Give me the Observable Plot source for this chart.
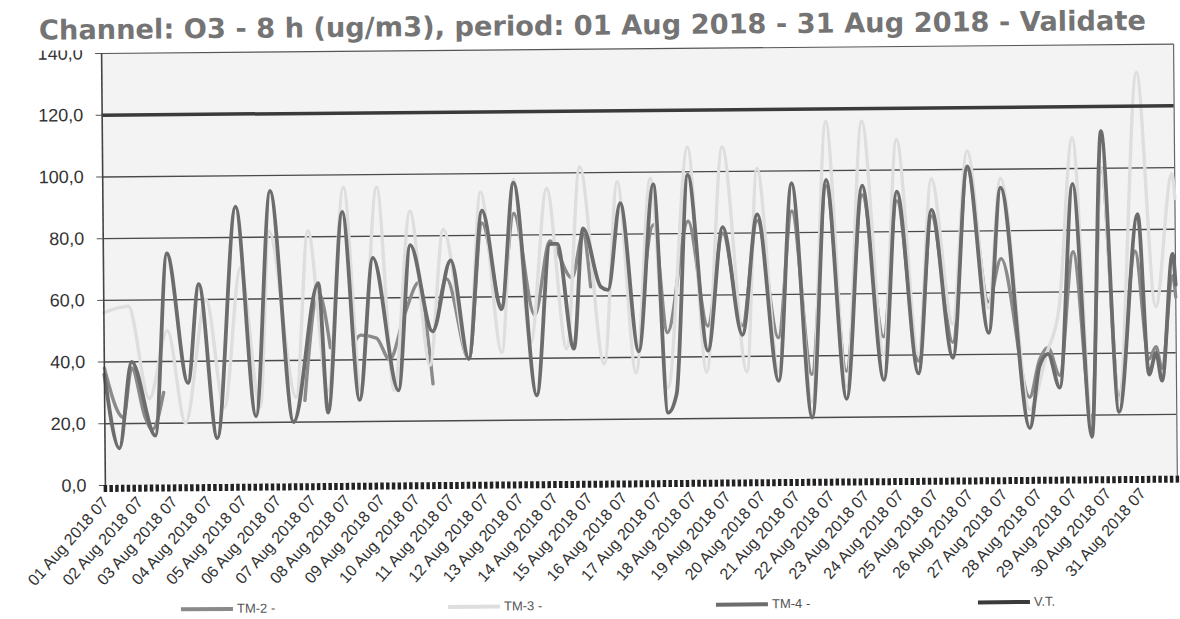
<!DOCTYPE html>
<html><head><meta charset="utf-8">
<script src="https://cdn.jsdelivr.net/npm/d3@7"></script>
<script src="https://cdn.jsdelivr.net/npm/@observablehq/plot@0.6"></script>
<style>
html,body{margin:0;padding:0;background:#fff;overflow:hidden}
#wrap{width:1180px;height:619px;transform:rotate(-0.5deg);transform-origin:103px 270px;}
#title{position:relative;height:50px;}
#tt{position:absolute;left:41px;top:16px;font-family:"DejaVu Sans",sans-serif;font-weight:bold;font-size:25px;color:#747474;white-space:nowrap;line-height:1}
#chart svg{display:block;overflow:hidden}
#legend{position:relative;height:23px;font-family:"Liberation Sans",Arial,sans-serif;font-size:13px;color:#555}
.ln{position:absolute;height:0}
.lt{position:absolute;line-height:1;white-space:nowrap}
</style></head>
<body><div id="wrap"><div id="title"><span id="tt"></span></div><div id="chart"></div><div id="legend"></div></div>
<script>
const titleText = "Channel: O3 - 8 h (ug/m3), period: 01 Aug 2018 - 31 Aug 2018 - Validate";

// hour offsets from 01 Aug 2018 00:00 and values
const tm4Hours = [0,10,19,35,44,58,66,78,92,105,116,131,149,155,166,177,187,204,213,228,241,253,263,276,285,300,310,315,326,333,345,350,359,371,382,391,397,406,419,430,443,454,468,478,491,502,515,527,541,551,565,575,589,600,614,623,642,649,655,663,673,685,693,704,718,725,730,734,742,744];
const tm4Values = [36,12,40,16,75,33,65,15,90,22,95,20,65,23,88,27,73,30,77,49,72,40,88,56,97,28,77,77,43,82,63,62,90,42,96,22,28,99,42,82,47,86,32,96,20,97,26,95,32,93,34,87,39,101,47,94,16,36,40,29,95,13,112,21,85,33,40,31,72,62];

const tm2Hours = [0,13,19,28,33,41,42,139,149,157,158,173,178,189,198,209,219,224,228,229,233,238,253,263,276,285,299,310,325,333,338,339,374,382,391,406,419,430,443,454,468,478,491,502,515,527,541,551,565,575,589,600,614,623,642,649,655,663,673,685,693,704,716,725,730,734,742,744];
const tm2Values = [38,22,38,22,18,30,NaN,27,62,44,NaN,45,48,47,40,55,65,50,32,NaN,58,66,40,84,57,87,54,78,66,80,63,NaN,60,83,48,84,50,80,50,84,46,87,34,95,35,92,46,90,38,85,44,100,57,71,26,38,42,33,73,19,100,26,73,38,42,35,65,58];

const tm3Hours = [0,17,31,44,56,71,83,95,108,115,133,142,155,167,178,190,201,213,226,236,253,262,276,285,296,308,321,331,347,357,369,380,391,406,418,430,446,454,468,478,491,502,515,527,541,551,565,575,589,600,614,623,642,654,663,673,685,693,704,718,730,742,744];
const tm3Values = [56,58,28,50,20,60,25,70,25,82,28,82,30,96,30,96,30,88,38,82,40,94,42,98,45,95,43,102,38,97,35,98,30,108,35,108,35,101,35,96,25,116,30,116,40,110,40,97,50,106,55,97,22,40,55,110,18,100,25,131,55,98,90];

const vtValue = 120;
const yTicks = [0,20,40,60,80,100,120,140];
const gridValues = [20,40,60,80,100];
const days = d3.range(1, 32);
const xTickHours = days.map(d => (d - 1) * 24);
const xTickLabels = days.map(d => String(d).padStart(2, "0") + " Aug 2018 07");
const minorTickHours = d3.range(0, 745, 4);

const seriesNames = ["TM-2 -", "TM-3 -", "TM-4 -", "V.T."];
const seriesColors = ["#8a8a8a", "#dedede", "#6c6c6c", "#3a3a3a"];

const toRows = (hs, vs) => hs.map((h, i) => ({h, v: vs[i]}));
const tm2 = toRows(tm2Hours, tm2Values);
const tm3 = toRows(tm3Hours, tm3Values);
const tm4 = toRows(tm4Hours, tm4Values);

const tt = document.getElementById("tt");
tt.textContent = titleText;
const w0 = tt.offsetWidth;
tt.style.fontSize = (25 * 1108 / w0) + "px";

const chart = Plot.plot({
  width: 1180, height: 546,
  marginTop: 3, marginLeft: 103, marginRight: 5, marginBottom: 111,
  x: {domain: [0, 744], axis: null},
  y: {domain: [0, 140], axis: null},
  style: {fontFamily: '"Liberation Sans", Arial, sans-serif', background: "transparent"},
  marks: [
    Plot.frame({fill: "#f3f3f3", stroke: null}),
    Plot.ruleY(gridValues, {stroke: "#4a4a4a", strokeWidth: 1.4}),
    Plot.ruleY([140], {stroke: "#555", strokeWidth: 1.2}),
    Plot.ruleX([744], {stroke: "#666", strokeWidth: 1.2}),
    Plot.axisY({ticks: yTicks, label: null, tickFormat: d => d.toFixed(1).replace(".", ","), tickSize: 6, tickPadding: 13, fontSize: 18, fill: "#333", stroke: "#555"}),
    Plot.axisX({ticks: minorTickHours, label: null, tickSize: 7, tickFormat: () => "", stroke: "#222", strokeWidth: 3.5}),
    Plot.axisX({ticks: xTickHours, label: null, tickSize: 0, tickPadding: 14, tickRotate: -48, tickFormat: h => xTickLabels[h / 24], fontSize: 16, fill: "#333"}),
    Plot.line(tm2, {x: "h", y: "v", stroke: seriesColors[0], strokeWidth: 3.4, curve: "monotone-x"}),
    Plot.line(tm3, {x: "h", y: "v", stroke: seriesColors[1], strokeWidth: 3.4, curve: "monotone-x"}),
    Plot.line(tm4, {x: "h", y: "v", stroke: seriesColors[2], strokeWidth: 3.8, curve: "monotone-x"}),
    Plot.ruleY([vtValue], {stroke: seriesColors[3], strokeWidth: 3.5}),
    Plot.ruleX([0], {stroke: "#444", strokeWidth: 1.6})
  ]
});
chart.style.overflow = "hidden";
document.getElementById("chart").appendChild(chart);

const legendX = [178, 445, 713, 975];
const legend = document.getElementById("legend");
seriesNames.forEach((name, i) => {
  const ln = document.createElement("span");
  ln.className = "ln";
  ln.style.left = legendX[i] + "px";
  ln.style.width = "52px";
  ln.style.top = "12px";
  ln.style.borderTop = "4px solid " + seriesColors[i];
  legend.appendChild(ln);
  const lt = document.createElement("span");
  lt.className = "lt";
  lt.style.left = (legendX[i] + 56) + "px";
  lt.style.top = "7px";
  lt.textContent = name;
  legend.appendChild(lt);
});
</script></body></html>
